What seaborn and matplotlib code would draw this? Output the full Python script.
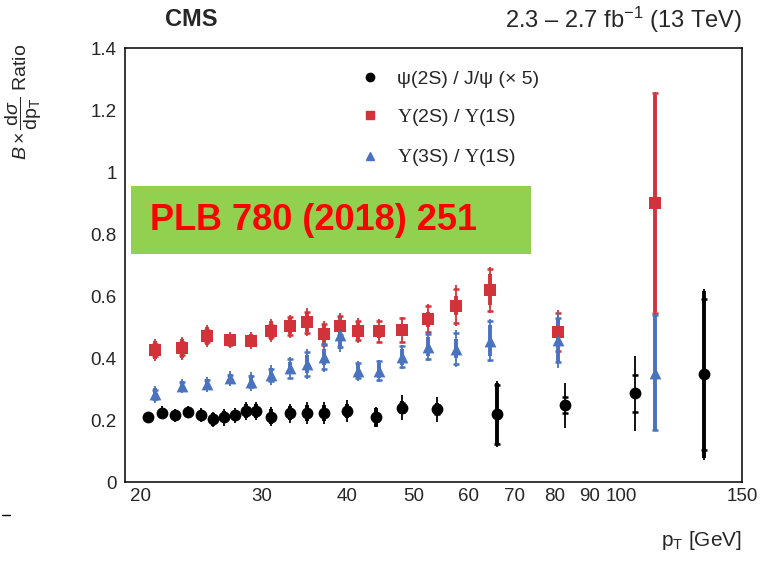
import matplotlib
matplotlib.use("Agg")
import matplotlib.pyplot as plt
import matplotlib.ticker as mticker
from matplotlib.lines import Line2D
import seaborn as sns

# psi(2S) / J/psi (x 5)
psi_pt = [20.5, 21.5, 22.5, 23.5, 24.5, 25.5, 26.5, 27.5, 28.5, 29.5, 31, 33, 35, 37, 40, 44, 48, 54, 66, 83, 105, 132]
psi_val = [0.211, 0.224, 0.215, 0.225, 0.216, 0.202, 0.209, 0.215, 0.229, 0.229, 0.211, 0.222,
           0.222, 0.222, 0.229, 0.209, 0.240, 0.235, 0.219, 0.248, 0.286, 0.347]
psi_tot = [0.016, 0.02, 0.02, 0.02, 0.022, 0.025, 0.027, 0.025, 0.03, 0.03, 0.03, 0.03,
           0.035, 0.035, 0.035, 0.032, 0.04, 0.04, 0.106, 0.073, 0.12, 0.275]
psi_stat = [0.01, 0.014, 0.014, 0.014, 0.015, 0.02, 0.02, 0.018, 0.022, 0.022, 0.025, 0.022,
            0.025, 0.025, 0.022, 0.03, 0.022, 0.02, 0.1, 0.012, 0.012, 0.27]
psi_sys = [0.008, 0.008, 0.008, 0.008, 0.008, 0.008, 0.008, 0.008, 0.01, 0.01, 0.01, 0.01,
           0.01, 0.01, 0.012, 0.012, 0.015, 0.015, 0.095, 0.025, 0.06, 0.243]

# Upsilon bins
ups_pt = [21, 23, 25, 27, 29, 31, 33, 35, 37, 39, 41.5, 44.5, 48, 52.5, 57.5, 64.5, 81, 112]

# Y(2S) / Y(1S)
u2_val = [0.426, 0.431, 0.471, 0.458, 0.456, 0.488, 0.503, 0.515, 0.476, 0.504, 0.488,
          0.486, 0.490, 0.525, 0.569, 0.620, 0.484, 0.899]
u2_tot = [0.035, 0.038, 0.035, 0.025, 0.027, 0.037, 0.037, 0.045, 0.043, 0.04, 0.04,
          0.039, 0.042, 0.048, 0.065, 0.075, 0.07, 0.36]
u2_stat = [0.03, 0.03, 0.028, 0.02, 0.022, 0.03, 0.025, 0.03, 0.03, 0.03, 0.03,
           0.02, 0.02, 0.025, 0.03, 0.05, 0.04, 0.35]
u2_sys = [0.02, 0.02, 0.02, 0.015, 0.015, 0.02, 0.028, 0.035, 0.035, 0.03, 0.03,
          0.035, 0.038, 0.042, 0.055, 0.067, 0.06, 0.355]

# Y(3S) / Y(1S)
u3_val = [0.283, 0.310, 0.316, 0.334, 0.324, 0.345, 0.367, 0.381, 0.404, 0.474, 0.359,
          0.359, 0.404, 0.437, 0.430, 0.456, 0.458, 0.353]
u3_tot = [0.028, 0.022, 0.024, 0.024, 0.03, 0.032, 0.035, 0.048, 0.048, 0.054, 0.032,
          0.036, 0.038, 0.048, 0.059, 0.069, 0.09, 0.187]
u3_stat = [0.02, 0.015, 0.015, 0.015, 0.02, 0.022, 0.02, 0.03, 0.025, 0.045, 0.025,
           0.025, 0.025, 0.03, 0.03, 0.05, 0.07, 0.185]
u3_sys = [0.015, 0.012, 0.012, 0.012, 0.018, 0.02, 0.03, 0.04, 0.04, 0.04, 0.025,
          0.03, 0.034, 0.04, 0.05, 0.062, 0.07, 0.185]

labels = ["ψ(2S) / J/ψ (× 5)",
          r"$\mathsf{\Upsilon}$(2S) / $\mathsf{\Upsilon}$(1S)",
          r"$\mathsf{\Upsilon}$(3S) / $\mathsf{\Upsilon}$(1S)"]
xticks = [20, 30, 40, 50, 60, 70, 80, 90, 100, 150]

RED = "#d2333a"
BLUE = "#4a72bf"

sns.set_style("white")
plt.rcParams["font.family"] = ["Liberation Sans", "DejaVu Sans"]
plt.rcParams["mathtext.fontset"] = "custom"
plt.rcParams["mathtext.rm"] = "Liberation Sans"
plt.rcParams["mathtext.it"] = "Liberation Sans:italic"
plt.rcParams["mathtext.sf"] = "Liberation Serif"

fig = plt.figure(figsize=(7.63, 5.62), dpi=100)
ax = fig.add_axes([0.1638, 0.1423, 0.8086, 0.7722])

series = [
    (psi_pt, psi_val, psi_tot, psi_stat, psi_sys, "black", "o", 8.5),
    (ups_pt, u2_val, u2_tot, u2_stat, u2_sys, RED, "s", 8),
    (ups_pt, u3_val, u3_tot, u3_stat, u3_sys, BLUE, "^", 8.5),
]

for i, (x, y, tot, stat, sys_, col, mk, ms) in enumerate(series):
    ax.errorbar(x, y, yerr=tot, fmt="none", ecolor=col, elinewidth=1.3, capsize=0, zorder=2 + i)
    ax.errorbar(x, y, yerr=stat, fmt="none", ecolor=col, elinewidth=2.8, capsize=0, zorder=2 + i)
    ax.errorbar(x, y, yerr=sys_, fmt="none", ecolor=col, elinewidth=0, capsize=2.5,
                capthick=1.8, zorder=2 + i)
    sns.scatterplot(x=x, y=y, ax=ax, color=col, marker=mk, s=ms ** 2, edgecolor=col,
                    linewidth=0, zorder=5 + i)

ax.set_xscale("log")
ax.set_xlim(19, 150)
ax.set_ylim(0, 1.4)
ax.xaxis.set_major_locator(mticker.FixedLocator(xticks))
ax.xaxis.set_major_formatter(mticker.FixedFormatter([str(t) for t in xticks]))
ax.xaxis.set_minor_locator(mticker.NullLocator())
ax.yaxis.set_major_locator(mticker.MultipleLocator(0.2))
ax.yaxis.set_minor_locator(mticker.MultipleLocator(0.05))
ax.yaxis.set_major_formatter(mticker.FuncFormatter(lambda v, p: f"{v:.1f}".rstrip("0").rstrip(".") if v else "0"))
ax.tick_params(axis="both", which="both", direction="in", labelsize=13.5, top=False, right=False,
               color="black", width=1)
ax.tick_params(axis="x", which="major", length=7, pad=4)
ax.tick_params(axis="y", which="major", length=11, pad=6)
ax.tick_params(axis="y", which="minor", length=6)
for s in ax.spines.values():
    s.set_color("black")
    s.set_linewidth(1.1)

# legend
handles = [Line2D([], [], linestyle="none", marker="o", color="black", markersize=6),
           Line2D([], [], linestyle="none", marker="s", color=RED, markersize=6),
           Line2D([], [], linestyle="none", marker="^", color=BLUE, markersize=6)]
ax.legend(handles, labels, loc="upper left", bbox_to_anchor=(0.35, 0.99), frameon=False,
          fontsize=14, handletextpad=0.8, labelspacing=1.0, handlelength=1.2)

# green publication banner
fig.patches.append(plt.Rectangle((131 / 763, 1 - 254 / 562), 400 / 763, 68 / 562,
                                 transform=fig.transFigure, facecolor="#92d050",
                                 edgecolor="none", zorder=10))
fig.text(150 / 763, 1 - 221 / 562, "PLB 780 (2018) 251", color="#ff0000", fontsize=26,
         fontweight="bold", va="center", ha="left", zorder=11)

fig.text(165 / 763, 1 - 20 / 562, "CMS", fontsize=17, fontweight="bold", va="center", ha="left")
fig.text(742 / 763, 1 - 20 / 562, r"2.3 – 2.7 fb$^{-1}$ (13 TeV)", fontsize=17,
         va="center", ha="right")
fig.text(742 / 763, 1 - 540 / 562, r"p$_{\mathrm{T}}$ [GeV]", fontsize=15, va="center", ha="right")
fig.text(24 / 763, 1 - 102 / 562, r"$B\times\dfrac{\mathrm{d}\sigma}{\mathrm{dp}_{\mathrm{T}}}$ Ratio",
         fontsize=14, rotation=90, va="center", ha="center")

# small stray dash at the left edge
fig.add_artist(Line2D([2 / 763, 10 / 763], [1 - 515 / 562, 1 - 515 / 562], color="black", lw=1))

fig.savefig("out.png", dpi=100)
